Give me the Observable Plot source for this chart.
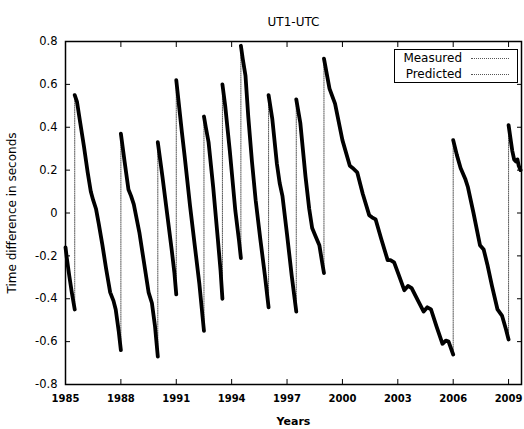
<!DOCTYPE html>
<html><head><meta charset="utf-8">
<script src="https://cdn.jsdelivr.net/npm/d3@7"></script>
<script src="https://cdn.jsdelivr.net/npm/@observablehq/plot@0.6"></script>
<style>
body{margin:0;background:#fff;}
#wrap{position:relative;width:524px;height:429px;font-family:"DejaVu Sans",sans-serif;}
#legend{position:absolute;left:394px;top:49px;width:122px;height:32px;border:1px solid #000;background:#fff;}
.lrow{position:absolute;left:0;width:122px;height:16px;font-size:12px;line-height:16px;}
.lrow .t{position:absolute;right:55px;top:0;white-space:nowrap;}
.lrow .s{position:absolute;left:76px;width:38px;top:8px;border-top:1px dotted #555;}
</style>
</head><body>
<div id="wrap"><div id="legend"></div></div>
<script>
const title = "UT1-UTC";
const xLabel = "Years";
const yLabel = "Time difference in seconds";
const legendLabels = ["Measured", "Predicted"];
const xTicks = [1985, 1988, 1991, 1994, 1997, 2000, 2003, 2006, 2009];
const yTicks = [-0.8, -0.6, -0.4, -0.2, 0, 0.2, 0.4, 0.6, 0.8];

// [year, UT1-UTC seconds] per leap-second interval
const seg1 = [[1985.0,-0.16],[1985.07,-0.21],[1985.2,-0.29],[1985.34,-0.37],[1985.5,-0.45]];
const seg2 = [[1985.5,0.55],[1985.62,0.52],[1985.8,0.42],[1986.0,0.31],[1986.2,0.19],[1986.37,0.10],[1986.5,0.06],[1986.65,0.02],[1986.8,-0.05],[1987.0,-0.15],[1987.2,-0.26],[1987.42,-0.37],[1987.6,-0.41],[1987.72,-0.45],[1987.88,-0.55],[1988.0,-0.64]];
const seg3 = [[1988.0,0.37],[1988.2,0.24],[1988.41,0.11],[1988.55,0.08],[1988.7,0.04],[1989.0,-0.09],[1989.25,-0.23],[1989.5,-0.37],[1989.68,-0.42],[1989.85,-0.53],[1990.0,-0.67]];
const seg4 = [[1990.0,0.33],[1990.25,0.17],[1990.5,0.0],[1990.75,-0.17],[1990.9,-0.28],[1991.0,-0.38]];
const seg5 = [[1991.0,0.62],[1991.15,0.50],[1991.3,0.38],[1991.46,0.26],[1991.75,0.03],[1992.0,-0.15],[1992.25,-0.33],[1992.5,-0.55]];
const seg6 = [[1992.5,0.45],[1992.6,0.40],[1992.75,0.33],[1993.0,0.12],[1993.25,-0.12],[1993.4,-0.27],[1993.5,-0.40]];
const seg7 = [[1993.5,0.60],[1993.65,0.50],[1993.9,0.29],[1994.2,0.01],[1994.4,-0.13],[1994.5,-0.21]];
const seg8 = [[1994.5,0.78],[1994.6,0.72],[1994.75,0.64],[1994.9,0.45],[1995.1,0.24],[1995.3,0.06],[1995.55,-0.12],[1995.8,-0.29],[1996.0,-0.44]];
const seg9 = [[1996.0,0.55],[1996.2,0.44],[1996.45,0.23],[1996.6,0.14],[1996.75,0.08],[1997.0,-0.10],[1997.25,-0.29],[1997.5,-0.46]];
const seg10 = [[1997.5,0.53],[1997.72,0.42],[1998.0,0.17],[1998.2,0.02],[1998.36,-0.07],[1998.55,-0.11],[1998.75,-0.15],[1998.9,-0.23],[1999.0,-0.28]];
const seg11 = [[1999.0,0.72],[1999.3,0.58],[1999.6,0.51],[2000.0,0.34],[2000.4,0.22],[2000.55,0.21],[2000.8,0.19],[2001.1,0.09],[2001.45,-0.01],[2001.6,-0.02],[2001.8,-0.03],[2002.1,-0.12],[2002.45,-0.22],[2002.6,-0.22],[2002.8,-0.23],[2003.1,-0.30],[2003.35,-0.36],[2003.55,-0.34],[2003.75,-0.35],[2004.1,-0.41],[2004.4,-0.46],[2004.6,-0.44],[2004.8,-0.45],[2005.1,-0.53],[2005.42,-0.61],[2005.6,-0.595],[2005.75,-0.60],[2006.0,-0.66]];
const seg12 = [[2006.0,0.34],[2006.2,0.27],[2006.4,0.21],[2006.65,0.16],[2006.8,0.12],[2007.1,0.0],[2007.45,-0.15],[2007.65,-0.17],[2007.85,-0.24],[2008.1,-0.34],[2008.4,-0.45],[2008.65,-0.48],[2008.85,-0.54],[2009.0,-0.59]];
const seg13 = [[2009.0,0.41],[2009.1,0.35],[2009.2,0.29],[2009.3,0.25],[2009.4,0.24],[2009.48,0.25],[2009.55,0.22],[2009.65,0.20]];

const segments = [seg1,seg2,seg3,seg4,seg5,seg6,seg7,seg8,seg9,seg10,seg11,seg12,seg13];
const points = segments.flatMap((s, i) => s.map(([year, value]) => ({year, value, seg: i})));

const font = "DejaVu Sans";
const chart = Plot.plot({
  width: 524, height: 429,
  marginLeft: 65, marginRight: 3, marginTop: 41, marginBottom: 45,
  style: {fontFamily: font, fontSize: "11px", background: "#fff", color: "#000", overflow: "visible"},
  x: {domain: [1985, 2009.7]},
  y: {domain: [-0.8, 0.8]},
  marks: [
    Plot.line(points, {x: "year", y: "value", stroke: "#444", strokeWidth: 0.9, strokeDasharray: "1,1.2"}),
    Plot.line(points, {x: "year", y: "value", z: "seg", stroke: "#000", strokeWidth: 3.8, strokeLinejoin: "round"}),
    Plot.frame({stroke: "#000", strokeWidth: 1.5}),
    Plot.axisX({ticks: xTicks, anchor: "bottom", tickSize: -5, tickFormat: () => "", label: null}),
    Plot.axisX({ticks: xTicks, anchor: "top", tickSize: -5, tickFormat: () => "", label: null}),
    Plot.axisY({ticks: yTicks, anchor: "left", tickSize: -5, tickFormat: () => "", label: null}),
    Plot.axisY({ticks: yTicks, anchor: "right", tickSize: -5, tickFormat: () => "", label: null}),
    Plot.axisX({ticks: xTicks, anchor: "bottom", tickSize: 0, tickPadding: 10, tickFormat: d => String(d), fontWeight: "bold", fontSize: 10, label: null}),
    Plot.axisY({ticks: yTicks, anchor: "left", tickSize: 0, tickPadding: 8, tickFormat: d => d === 0 ? "0" : d.toFixed(1), fontSize: 11.5, label: null}),
    Plot.text([title], {frameAnchor: "top", dy: -24, fontSize: 12}),
    Plot.text([yLabel], {frameAnchor: "left", textAnchor: "middle", dx: -53, rotate: -90, fontSize: 12}),
    Plot.text([xLabel], {frameAnchor: "bottom", dy: 40, fontSize: 11, fontWeight: "bold"})
  ]
});
const wrap = document.getElementById("wrap");
wrap.insertBefore(chart, wrap.firstChild);
const legend = document.getElementById("legend");
legendLabels.forEach((lab, i) => {
  const row = document.createElement("div");
  row.className = "lrow";
  row.style.top = (i * 16) + "px";
  row.innerHTML = `<span class="t">${lab}</span><span class="s"></span>`;
  legend.appendChild(row);
});
</script>
</body></html>
